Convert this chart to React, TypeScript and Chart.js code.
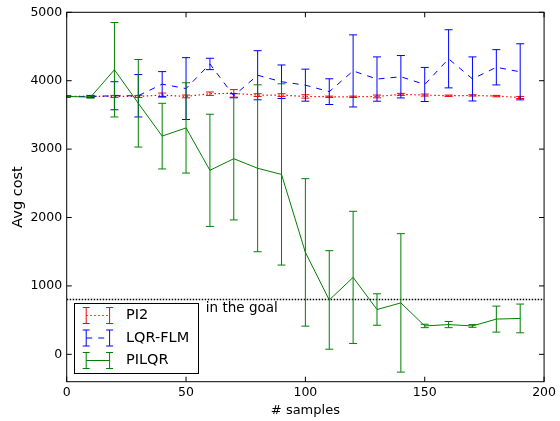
import React, { useEffect, useRef } from 'react';
import { Chart, registerables } from 'chart.js';

Chart.register(...registerables);

// ---- data ----
const samples = [0, 10, 20, 30, 40, 50, 60, 70, 80, 90, 100, 110, 120, 130, 140, 150, 160, 170, 180, 190];

const pi2Mean = [3770, 3770, 3770, 3770, 3790, 3770, 3810, 3815, 3790, 3790, 3770, 3765, 3765, 3770, 3800, 3790, 3780, 3785, 3775, 3755];
const pi2Err = [10, 10, 15, 15, 30, 20, 25, 55, 20, 20, 25, 10, 10, 20, 15, 15, 10, 10, 10, 15];

const lqrMean = [3770, 3770, 3780, 3780, 3950, 3885, 4245, 3780, 4080, 3985, 3935, 3840, 4143, 4024, 4058, 3945, 4320, 4026, 4196, 4130];
const lqrErr = [10, 15, 205, 310, 183, 452, 83, 30, 359, 245, 234, 188, 527, 324, 310, 249, 425, 322, 258, 410];

const pilqrMean = [3770, 3760, 4160, 3670, 3190, 3310, 2690, 2860, 2720, 2630, 1490, 795, 1125, 655, 752, 415, 435, 415, 515, 525];
const pilqrErr = [10, 15, 690, 640, 480, 660, 820, 895, 1220, 1325, 1078, 720, 966, 230, 1012, 25, 45, 20, 190, 210];

const goalLevel = 800;
const goalText = 'in the goal';
const goalTextPos = [58.3, 615];

const xTicks = [0, 50, 100, 150, 200];
const yTicks = [0, 1000, 2000, 3000, 4000, 5000];

const RED = '#ff0000';
const BLUE = '#0000ff';
const GREEN = '#008000';
const FONT = "'DejaVu Sans', sans-serif";

const errorBarPlugin = {
  id: 'errorBars',
  afterDatasetDraw(chart: any, args: any) {
    const ds = chart.data.datasets[args.index];
    if (!ds.errs) return;
    const { ctx, chartArea } = chart;
    const xs = chart.scales.x;
    const ys = chart.scales.y;
    ctx.save();
    ctx.beginPath();
    ctx.rect(chartArea.left, chartArea.top, chartArea.right - chartArea.left, chartArea.bottom - chartArea.top);
    ctx.clip();
    ctx.strokeStyle = ds.borderColor;
    ctx.lineWidth = 1;
    ctx.setLineDash([]);
    ds.data.forEach((p: any, i: number) => {
      const px = xs.getPixelForValue(p.x);
      const top = ys.getPixelForValue(p.y + ds.errs[i]);
      const bot = ys.getPixelForValue(p.y - ds.errs[i]);
      ctx.beginPath();
      ctx.moveTo(px, top);
      ctx.lineTo(px, bot);
      ctx.moveTo(px - 4, top);
      ctx.lineTo(px + 4, top);
      ctx.moveTo(px - 4, bot);
      ctx.lineTo(px + 4, bot);
      ctx.stroke();
    });
    ctx.restore();
  },
};

const framePlugin = {
  id: 'frameLegend',
  afterDraw(chart: any) {
    const { ctx, chartArea } = chart;
    const xs = chart.scales.x;
    const ys = chart.scales.y;
    const { left, top, right, bottom } = chartArea;
    ctx.save();
    // goal text
    ctx.fillStyle = '#000';
    ctx.font = `13.5px ${FONT}`;
    ctx.textBaseline = 'alphabetic';
    ctx.textAlign = 'left';
    ctx.fillText(goalText, xs.getPixelForValue(goalTextPos[0]), ys.getPixelForValue(goalTextPos[1]));

    // frame
    ctx.strokeStyle = '#000';
    ctx.lineWidth = 1;
    ctx.setLineDash([]);
    ctx.strokeRect(left, top, right - left, bottom - top);
    // inward ticks
    const tl = 5;
    ctx.beginPath();
    xs.ticks.forEach((t: any) => {
      const px = xs.getPixelForValue(t.value);
      ctx.moveTo(px, bottom);
      ctx.lineTo(px, bottom - tl);
      ctx.moveTo(px, top);
      ctx.lineTo(px, top + tl);
    });
    ys.ticks.forEach((t: any) => {
      const py = ys.getPixelForValue(t.value);
      ctx.moveTo(left, py);
      ctx.lineTo(left + tl, py);
      ctx.moveTo(right, py);
      ctx.lineTo(right - tl, py);
    });
    ctx.stroke();

    // legend
    const items = chart.data.datasets.filter((d: any) => d.errs);
    const bx = 74.5, by = 303.5, bw = 124, bh = 70;
    ctx.fillStyle = '#fff';
    ctx.fillRect(bx, by, bw, bh);
    ctx.strokeStyle = '#000';
    ctx.strokeRect(bx, by, bw, bh);
    items.forEach((d: any, i: number) => {
      const cy = 315.5 + i * 22.5;
      const x0 = 86.2, x1 = 109.6;
      ctx.strokeStyle = d.borderColor;
      ctx.lineWidth = 1;
      ctx.setLineDash(d.borderDash || []);
      ctx.beginPath();
      ctx.moveTo(x0, cy);
      ctx.lineTo(x1, cy);
      ctx.stroke();
      ctx.setLineDash([]);
      ctx.beginPath();
      [x0, x1].forEach((x) => {
        ctx.moveTo(x, cy - 8);
        ctx.lineTo(x, cy + 8);
        ctx.moveTo(x - 3.5, cy - 8);
        ctx.lineTo(x + 3.5, cy - 8);
        ctx.moveTo(x - 3.5, cy + 8);
        ctx.lineTo(x + 3.5, cy + 8);
      });
      ctx.stroke();
      ctx.fillStyle = '#000';
      ctx.font = `14.5px ${FONT}`;
      ctx.textBaseline = 'middle';
      ctx.fillText(d.label, 126, cy);
    });
    ctx.restore();
  },
};

function toPoints(means: number[]) {
  return samples.map((x, i) => ({ x, y: means[i] }));
}

export default function App() {
  const ref = useRef<HTMLCanvasElement>(null);
  useEffect(() => {
    if (!ref.current) return;
    const chart = new Chart(ref.current, {
      type: 'line',
      data: {
        datasets: [
          {
            label: 'PI2',
            data: toPoints(pi2Mean),
            errs: pi2Err,
            borderColor: RED,
            borderWidth: 1.2,
            borderDash: [1.5, 2.5],
            pointRadius: 0,
            tension: 0,
            fill: false,
            order: 2,
          } as any,
          {
            label: 'LQR-FLM',
            data: toPoints(lqrMean),
            errs: lqrErr,
            borderColor: BLUE,
            borderWidth: 1,
            borderDash: [6, 6],
            pointRadius: 0,
            tension: 0,
            fill: false,
            order: 1,
          } as any,
          {
            label: 'PILQR',
            data: toPoints(pilqrMean),
            errs: pilqrErr,
            borderColor: GREEN,
            borderWidth: 1,
            pointRadius: 0,
            tension: 0,
            fill: false,
            order: 0,
          } as any,
          {
            label: 'goal',
            data: [
              { x: 0, y: goalLevel },
              { x: 200, y: goalLevel },
            ],
            borderColor: '#000',
            borderWidth: 1.5,
            borderDash: [1.5, 1.5],
            pointRadius: 0,
            fill: false,
            order: 3,
          } as any,
        ],
      },
      options: {
        animation: false,
        responsive: false,
        devicePixelRatio: 1,
        layout: { padding: { top: 12.3, right: 13.3, left: 0, bottom: 0 } },
        plugins: { legend: { display: false }, tooltip: { enabled: false } },
        scales: {
          x: {
            type: 'linear',
            min: 0,
            max: 200,
            afterBuildTicks: (s: any) => {
              s.ticks = xTicks.map((v) => ({ value: v }));
            },
            afterFit: (s: any) => {
              s.height = 39.3;
            },
            grid: { display: false, drawTicks: false },
            border: { display: false },
            ticks: {
              autoSkip: false,
              maxRotation: 0,
              padding: 4,
              color: '#000',
              font: { family: FONT, size: 12.5 },
              callback: (v: any) => String(v),
            },
            title: {
              display: true,
              text: '# samples',
              color: '#000',
              font: { family: FONT, size: 13 },
              padding: { top: 0, bottom: 3 },
            },
          },
          y: {
            type: 'linear',
            min: -400,
            max: 5000,
            afterBuildTicks: (s: any) => {
              s.ticks = yTicks.map((v) => ({ value: v }));
            },
            afterFit: (s: any) => {
              s.width = 66.7;
            },
            grid: { display: false, drawTicks: false },
            border: { display: false },
            ticks: {
              padding: 4.5,
              color: '#000',
              font: { family: FONT, size: 12.5 },
              callback: (v: any) => String(v),
            },
            title: {
              display: true,
              text: 'Avg cost',
              color: '#000',
              font: { family: FONT, size: 14.5 },
              padding: { top: 9.3, bottom: 0 },
            },
          },
        },
      } as any,
      plugins: [errorBarPlugin, framePlugin],
    });
    return () => chart.destroy();
  }, []);
  return (
    <div style={{ position: 'fixed', left: 0, top: 0, width: 560, height: 421, background: '#fff' }}>
      <canvas ref={ref} width={560} height={421} style={{ display: 'block' }} />
    </div>
  );
}
